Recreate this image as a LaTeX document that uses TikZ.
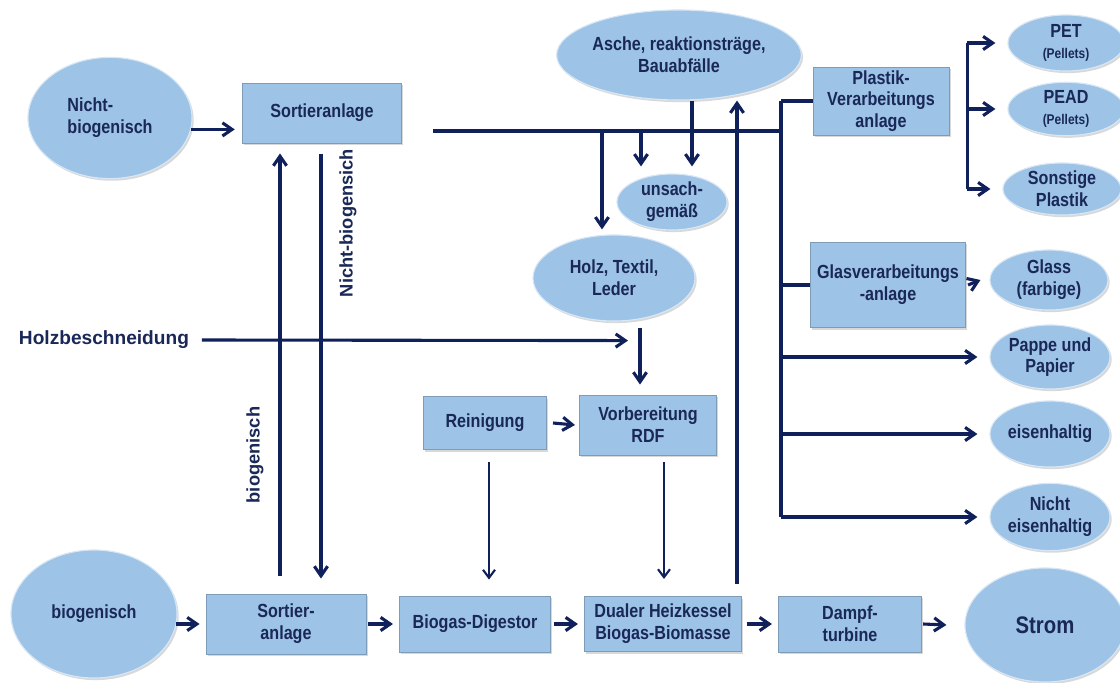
\documentclass[tikz,border=0pt]{standalone}
\usepackage{fontspec}
\setmainfont{Liberation Sans}
\newfontfamily\narrowsf{Liberation Sans}[FakeStretch=0.85]
\usetikzlibrary{shapes.geometric,arrows.meta,calc,shadows}

\definecolor{boxblue}{HTML}{9DC3E6}
\definecolor{inkblue}{HTML}{1A2858}
\definecolor{linenavy}{HTML}{10205A}

\newcommand\boxfont{\narrowsf\bfseries\fontsize{13.5}{15.5}\selectfont}

\tikzset{
	blob/.style = {ellipse, fill = boxblue, draw = white!60!boxblue, line width = 0.8pt, inner sep = 0pt,
		align = center, text = inkblue, font = \boxfont,
		drop shadow = {shadow xshift = 1.2pt, shadow yshift = -1.5pt, opacity = 0.3}},
	unit/.style = {rectangle, fill = boxblue, draw = boxblue!80!black, line width = 0.6pt, inner sep = 0pt,
		align = center, text = inkblue, font = \boxfont,
		drop shadow = {shadow xshift = 1.2pt, shadow yshift = -1.5pt, opacity = 0.3}},
	flow/.style = {draw = linenavy, line width = 2.2pt},
	arr/.style = {flow, -{Straight Barb[length = 2.4mm, width = 3.3mm]}},
	thinarr/.style = {draw = linenavy, line width = 1.5pt, -{Straight Barb[length = 2mm, width = 3mm]}},
	tag/.style = {text = inkblue, font = \bfseries\fontsize{13}{15}\selectfont}
}

\begin{document}
\begin{tikzpicture}[x = 0.025cm, y = -0.025cm]
	\useasboundingbox [fill = white] (0, 0) rectangle (1120, 683);

	% Quellen und Sortierung
	\node [blob, minimum width = 4.1cm, minimum height = 3.03cm, align = left] (nbio) at (110, 118) {Nicht-\\biogenisch};
	\node [unit, minimum width = 3.98cm, minimum height = 1.5cm] (sort1) at (322, 113) {Sortieranlage};
	\node [blob, minimum width = 4.15cm, minimum height = 3.2cm] (bio) at (94, 614) {biogenisch};
	\node [unit, minimum width = 4cm, minimum height = 1.5cm] (sort2) at (286, 624) {Sortier-\\anlage};

	% Mitte
	\node [blob, minimum width = 5.15cm, minimum height = 2.25cm] (asche) at (679, 55) {Asche, reaktionstr\"age,\\Bauabf\"alle};
	\node [blob, minimum width = 2.75cm, minimum height = 1.4cm] (unsach) at (672, 202) {unsach-\\gem\"a\ss};
	\node [blob, minimum width = 4.05cm, minimum height = 2.15cm] (holz) at (614, 278) {Holz, Textil,\\Leder};
	\node [unit, minimum width = 3.08cm, minimum height = 1.33cm] (rein) at (485, 423) {Reinigung};
	\node [unit, minimum width = 3.43cm, minimum height = 1.5cm] (rdf) at (648, 425) {Vorbereitung\\RDF};
	\node [unit, minimum width = 3.78cm, minimum height = 1.4cm] (biogas) at (475, 624) {Biogas-Digestor};
	\node [unit, minimum width = 3.93cm, minimum height = 1.38cm] (dual) at (663, 624) {Dualer Heizkessel\\Biogas-Biomasse};
	\node [unit, minimum width = 3.58cm, minimum height = 1.4cm] (dampf) at (850, 624) {Dampf-\\turbine};

	% Verarbeitung rechts
	\node [unit, minimum width = 3.4cm, minimum height = 1.7cm] (plastik) at (881, 101) {Plastik-\\Verarbeitungs\\anlage};
	\node [unit, minimum width = 3.88cm, minimum height = 2.13cm] (glas) at (888, 285) {Glasverarbeitungs\\-anlage};

	% Produkte
	\node [blob, minimum width = 2.9cm, minimum height = 1.4cm] (pet) at (1066, 43) {PET\\{\fontsize{10}{12}\selectfont (Pellets)}};
	\node [blob, minimum width = 2.9cm, minimum height = 1.25cm] (pead) at (1066, 109) {PEAD\\{\fontsize{10}{12}\selectfont (Pellets)}};
	\node [blob, minimum width = 2.95cm, minimum height = 1.3cm] (sonst) at (1062, 189) {Sonstige\\Plastik};
	\node [blob, minimum width = 2.95cm, minimum height = 1.5cm] (glass) at (1049, 280) {Glass\\(farbige)};
	\node [blob, minimum width = 3cm, minimum height = 1.6cm] (pappe) at (1050, 357) {Pappe und\\Papier};
	\node [blob, minimum width = 3cm, minimum height = 1.65cm] (eisen) at (1050, 434) {eisenhaltig};
	\node [blob, minimum width = 3cm, minimum height = 1.68cm] (neisen) at (1050, 517) {Nicht\\eisenhaltig};
	\node [blob, minimum width = 4cm, minimum height = 2.85cm, font = \narrowsf\bfseries\fontsize{17}{19}\selectfont] (strom) at (1045, 625) {Strom};

	% Beschriftungen
	\node [tag, anchor = west, font = \bfseries\fontsize{13.6}{15}\selectfont] (holzb) at (14, 340) {Holzbeschneidung};
	\node [tag, rotate = 90] (lblnb) at (348, 223) {Nicht-biogensich};
	\node [tag, rotate = 90] (lblbio) at (255, 455) {biogenisch};

	% Hilfspunkte
	\coordinate (hub) at (781, 131);
	\coordinate (tlstart) at (433, 131);
	\coordinate (brk) at ($(plastik.east) + (18, 0)$);
	\coordinate (holzin) at ($(holz.north) + (-12, -5)$);
	\coordinate (unsachin) at ($(unsach.north) + (-31, -7)$);
	\coordinate (ascheout) at ($(asche.south) + (13, 0)$);
	\coordinate (dualup) at ($(dual.north) + (74, -12)$);
	\coordinate (holzlow) at ($(holz.south) + (14, 19)$);
	\coordinate (holzout) at ($(holz.south) + (26, 6)$);
	\coordinate (rdfin) at ($(rdf.north) + (0, -10)$);
	\coordinate (reinout) at ($(rein.south) + (4, 12)$);
	\coordinate (biogasin) at ($(biogas.north) + (0, -16)$);
	\coordinate (rdfout) at ($(rdf.south) + (16, 7)$);
	\coordinate (dualin) at ($(dual.north) + (0, -17)$);
	\coordinate (sortup) at ($(sort2.north) + (-6, -18)$);
	\coordinate (sort1low) at ($(sort1.south) + (0, 10)$);
	\coordinate (sortdown) at ($(sort1.south) + (-1, 11)$);
	\coordinate (sort2in) at ($(sort2.north) + (0, -15)$);

	% oberer Strang
	\draw [arr, shorten > = 1.8mm] (nbio.-8) -- (nbio.-8 -| sort1.west);
	\draw [flow] (tlstart) -- (hub);
	\draw [flow] (plastik.west -| hub) -- (neisen.west -| hub);
	\draw [flow] (plastik.west -| hub) -- (plastik.west);
	\draw [flow] (glas.west -| hub) -- (glas.west);
	\foreach \n in {pappe, eisen, neisen}
		\draw [arr] (\n.west -| hub) -- ($(\n.west) + (-12, 0)$);

	\draw [flow] (brk |- pet.west) -- (brk |- sonst.west);
	\foreach \n in {pet, pead, sonst}
		\draw [arr] (brk |- \n.west) -- ($(\n.west) + (-12, 0)$);
	\draw [arr] ($(glas.east) + (2, 0)$) -- ($(glass.west) + (-9, 0)$);

	\draw [arr] (holzin |- hub) -- (holzin);
	\draw [arr] (unsachin |- hub) -- (unsachin);
	\draw [arr] (ascheout) -- (ascheout |- unsachin);
	\draw [arr] (dualup) -- (dualup |- asche.south);

	% Holz und RDF
	\draw [arr] ($(holzb.east) + (8, 0)$) -- (holzlow);
	\draw [arr] (holzout) -- (holzout |- rdfin);
	\draw [arr] ($(rein.east) + (6, 0)$) -- ($(rdf.west) + (-4, 0)$);
	\draw [thinarr] (reinout) -- (reinout |- biogasin);
	\draw [thinarr] (rdfout) -- (rdfout |- dualin);

	% Sortierung
	\draw [arr] (sortup) -- (sortup |- sort1low);
	\draw [arr] (sortdown) -- (sortdown |- sort2in);

	% unterer Strang
	\draw [arr] ($(bio.east) + (-2, 10)$) -- ($(sort2.west) + (-6, 0)$);
	\draw [arr] ($(sort2.east) + (2, 0)$) -- ($(biogas.west) + (-6, 0)$);
	\draw [arr] ($(biogas.east) + (3, 0)$) -- ($(dual.west) + (-6, 0)$);
	\draw [arr] ($(dual.east) + (5, 0)$) -- ($(dampf.west) + (-6, 0)$);
	\draw [arr] ($(dampf.east) + (1, 0)$) -- ($(strom.west) + (-18, 0)$);
\end{tikzpicture}
\end{document}
